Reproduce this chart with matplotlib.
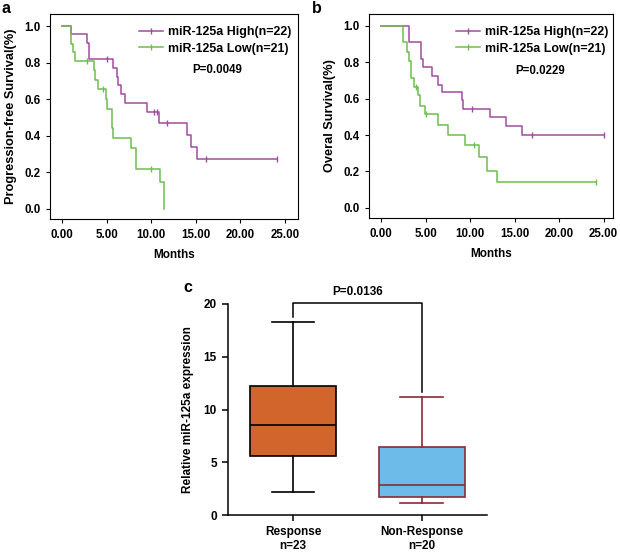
import numpy as np
import matplotlib
matplotlib.use("Agg")
import matplotlib.pyplot as plt
from matplotlib.lines import Line2D

plt.rcParams["font.family"] = ["Liberation Sans", "DejaVu Sans"]
plt.rcParams["font.weight"] = "bold"

# ---- data ----
# panel a: progression-free survival
a_high_t = [1.0, 2.76, 2.99, 5.67, 6.12, 6.27, 6.6, 7.09, 9.48, 10.9, 13.96, 14.5, 15.1]
a_high_s = [0.955, 0.909, 0.818, 0.773, 0.72, 0.675, 0.626, 0.579, 0.53, 0.47, 0.403, 0.338, 0.27]
a_high_cens = [5.0, 10.3, 10.6, 11.75, 16.2, 24.1]
a_low_t = [1.0, 1.19, 1.38, 3.54, 3.73, 4.0, 4.89, 5.04, 5.56, 5.75, 7.72, 8.28, 11.0, 11.46]
a_low_s = [0.904, 0.86, 0.81, 0.76, 0.705, 0.656, 0.602, 0.548, 0.44, 0.385, 0.331, 0.217, 0.146, 0.0]
a_low_cens = [2.76, 4.63, 9.96]

# panel b: overall survival
b_high_t = [3.15, 4.54, 4.73, 5.78, 6.42, 6.9, 9.05, 9.23, 12.24, 14.0, 15.88]
b_high_s = [0.91, 0.82, 0.774, 0.723, 0.678, 0.638, 0.593, 0.544, 0.497, 0.448, 0.398]
b_high_cens = [10.17, 17.0, 25.0]
b_low_t = [2.48, 2.93, 3.12, 3.42, 3.75, 4.17, 4.35, 4.92, 6.42, 7.47, 9.42, 11.04, 11.94, 13.06]
b_low_s = [0.91, 0.855, 0.81, 0.714, 0.666, 0.62, 0.56, 0.515, 0.457, 0.403, 0.344, 0.277, 0.204, 0.141]
b_low_cens = [3.9, 5.1, 10.47, 24.15]

labels_km = ["miR-125a High(n=22)", "miR-125a Low(n=21)"]
p_a = "P=0.0049"
p_b = "P=0.0229"

# panel c: box plot
groups = ["Response\nn=23", "Non-Response\nn=20"]
box_whislo = [2.18, 1.11]
box_q1 = [5.63, 1.68]
box_med = [8.51, 2.82]
box_q3 = [12.25, 6.49]
box_whishi = [18.26, 11.23]
p_c = "P=0.0136"

purple = "#a24aa2"
green = "#6dbd4f"
orange = "#d2652b"
blue = "#6cbbe9"
darkred = "#8a2b38"

fig = plt.figure(figsize=(6.2, 5.53), dpi=100)


def km(ax, t, s, cens, color):
    t_all = [0.0] + list(t)
    s_all = [1.0] + list(s)
    end = max(max(cens), t_all[-1])
    t_all.append(end)
    s_all.append(s_all[-1])
    ax.step(t_all, s_all, where="post", color=color, lw=1.1)
    idx = np.searchsorted(t_all, cens, side="right") - 1
    ax.plot(cens, np.array(s_all)[idx], ls="none", marker="|", ms=4,
            mew=1.0, color=color)


def km_panel(rect, xlim, high, low, ylabel, ptxt, pxy, leg_x, letter, letter_x):
    ax = fig.add_axes(rect)
    km(ax, *high, purple)
    km(ax, *low, green)
    ax.set_xlim(*xlim)
    ax.set_ylim(-0.056, 1.066)
    ax.set_xticks(np.arange(0, 26, 5))
    ax.set_xticklabels(["%.2f" % v for v in np.arange(0, 26, 5)])
    ax.set_yticks(np.arange(0, 1.01, 0.2))
    ax.set_yticklabels(["%.1f" % v for v in np.arange(0, 1.01, 0.2)])
    ax.tick_params(labelsize=8.3, length=3, width=0.8, pad=4)
    for sp in ax.spines.values():
        sp.set_linewidth(0.8)
    ax.set_xlabel("Months", fontsize=8.5, fontweight="bold", labelpad=6)
    ax.set_ylabel(ylabel, fontsize=9.2, fontweight="bold", labelpad=5)
    handles = [Line2D([], [], color=purple, lw=1.1, marker="|", ms=4),
               Line2D([], [], color=green, lw=1.1, marker="|", ms=4)]
    ax.legend(handles, labels_km, loc="upper right", frameon=False,
              numpoints=1, fontsize=8.9, handlelength=2.0, handletextpad=0.35,
              labelspacing=0.35, borderaxespad=0.0, borderpad=0.0,
              bbox_to_anchor=(leg_x, 0.94))
    ax.text(pxy[0], pxy[1], ptxt, transform=ax.transAxes, ha="center",
            va="center", fontsize=8.3, fontweight="bold")
    fig.text(letter_x, 0.984, letter, fontsize=11.5,
             fontweight="bold", va="center")
    return ax


km_panel([50 / 620, 1 - 219 / 553, 248 / 620, 205 / 553], (-1.38, 26.49),
         (a_high_t, a_high_s, a_high_cens), (a_low_t, a_low_s, a_low_cens),
         "Progression-free Survival(%)", p_a, (0.673, 0.727), 0.972,
         "a", 2 / 620)
km_panel([369 / 620, 1 - 218 / 553, 244 / 620, 204 / 553], (-1.35, 26.06),
         (b_high_t, b_high_s, b_high_cens), (b_low_t, b_low_s, b_low_cens),
         "Overal Survival(%)", p_b, (0.70, 0.72), 0.98, "b", 312 / 620)

# ---- panel c ----
axc = fig.add_axes([228 / 620, 1 - 515 / 553, 259 / 620, 211 / 553])
stats = []
for i in range(len(groups)):
    stats.append(dict(med=box_med[i], q1=box_q1[i], q3=box_q3[i],
                      whislo=box_whislo[i], whishi=box_whishi[i], fliers=[]))
edge_cols = ["black", darkred]
face_cols = [orange, blue]
for i, st in enumerate(stats):
    ec = edge_cols[i]
    axc.bxp([st], positions=[i + 1], widths=0.67, patch_artist=True,
            showfliers=False,
            boxprops=dict(facecolor=face_cols[i], edgecolor=ec, lw=1.2),
            medianprops=dict(color=ec, lw=1.2),
            whiskerprops=dict(color=ec, lw=1.2),
            capprops=dict(color=ec, lw=1.2), capwidths=0.33)
axc.set_xlim(0.495, 2.507)
axc.set_ylim(0, 20)
axc.set_yticks([0, 5, 10, 15, 20])
axc.set_xticks([1, 2])
axc.set_xticklabels(groups)
axc.spines["top"].set_visible(False)
axc.spines["right"].set_visible(False)
axc.spines["left"].set_linewidth(1.1)
axc.spines["bottom"].set_linewidth(1.1)
axc.tick_params(labelsize=8.5, length=4, width=1.1, pad=4)
axc.set_ylabel("Relative miR-125a expression", fontsize=8.5,
               fontweight="bold", labelpad=7)
top = 20.05
axc.plot([1, 1, 2, 2], [box_whishi[0] + 0.55, top, top, box_whishi[1] + 0.4],
         color="black", lw=1.1, clip_on=False)
axc.text(1.5, top + 0.55, p_c, ha="center", va="bottom", fontsize=8.5,
         fontweight="bold")
fig.text(183 / 620, 1 - 288 / 553, "c", fontsize=11.5, fontweight="bold",
         va="center")

fig.savefig("out.png", dpi=100)
